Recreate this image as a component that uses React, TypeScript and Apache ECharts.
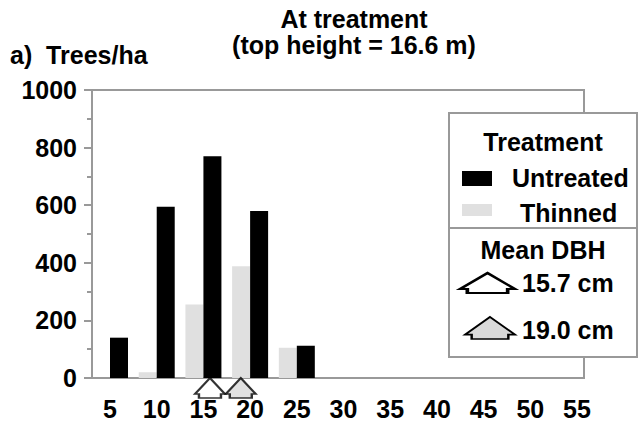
import React, { useEffect, useRef } from "react";
import * as echarts from "echarts";

// ---- data ----
const diameterClasses = [5, 10, 15, 20, 25];
const untreatedTreesPerHa = [140, 595, 770, 580, 112];
const thinnedTreesPerHa = [0, 20, 255, 388, 105];
const xTickLabels = [5, 10, 15, 20, 25, 30, 35, 40, 45, 50, 55];
const meanDbhValues = [15.7, 19.0];
const meanDbhLabels = ["15.7 cm", "19.0 cm"];
const seriesNames = ["Thinned", "Untreated"];

const FONT = "Liberation Sans, Arial, Helvetica, sans-serif";
const FS = 25;
const ARROW_D = "M15 0 L30 16 L26 16 L26 20 L4 20 L4 16 L0 16 Z";
const ARROW_FILLS = ["#ffffff", "#d9d9d9"];

let registered = false;
function registerArrow() {
  if (registered) return;
  echarts.graphic.registerShape("dbharrow", echarts.graphic.extendPath(ARROW_D, {}) as any);
  registered = true;
}

export default function App() {
  const ref = useRef<HTMLDivElement>(null);
  useEffect(() => {
    if (!ref.current) return;
    registerArrow();
    const chart = echarts.init(ref.current, undefined, { renderer: "svg" });
    const textBase = { fontFamily: FONT, fontWeight: "bold", fontSize: FS, fill: "#000" };
    const option: any = {
      animation: false,
      backgroundColor: "#fff",
      grid: {
        left: 92,
        top: 90,
        width: 492,
        height: 288,
        show: true,
        borderColor: "#999",
        borderWidth: 2,
        containLabel: false,
      },
      xAxis: {
        type: "value",
        min: 3.07,
        max: 55.75,
        axisLine: { show: true, lineStyle: { color: "#999", width: 2 } },
        axisTick: { show: false },
        splitLine: { show: false },
        axisLabel: {
          customValues: xTickLabels,
          color: "#000",
          fontFamily: FONT,
          fontWeight: "bold",
          fontSize: FS,
          margin: 18,
          formatter: (v: number) => String(Math.round(v)),
        },
      },
      yAxis: {
        type: "value",
        min: 0,
        max: 1000,
        interval: 200,
        axisLine: { show: true, lineStyle: { color: "#999", width: 2 } },
        axisTick: { show: true, length: 8, lineStyle: { color: "#999", width: 2 } },
        minorTick: { show: true, splitNumber: 2, length: 5, lineStyle: { color: "#999", width: 2 } },
        splitLine: { show: false },
        axisLabel: {
          color: "#000",
          fontFamily: FONT,
          fontWeight: "bold",
          fontSize: FS,
          margin: 15,
          formatter: (v: number) => String(v),
        },
      },
      series: [
        {
          name: seriesNames[0],
          type: "bar",
          barWidth: 18,
          barGap: "0%",
          itemStyle: { color: "#e0e0e0" },
          data: diameterClasses.map((d, i) => [d, thinnedTreesPerHa[i]]),
        },
        {
          name: seriesNames[1],
          type: "bar",
          barWidth: 18,
          barGap: "0%",
          itemStyle: { color: "#000000" },
          data: diameterClasses.map((d, i) => [d, untreatedTreesPerHa[i]]),
        },
        {
          type: "scatter",
          clip: false,
          z: 5,
          symbol: "path://" + ARROW_D,
          symbolSize: [30, 20],
          symbolOffset: [0, 10],
          data: meanDbhValues.map((v, i) => ({
            value: [v, 0],
            itemStyle: { color: ARROW_FILLS[i], borderColor: "#000", borderWidth: 2 },
          })),
        },
      ],
      graphic: [
        {
          type: "text",
          x: 354,
          y: 19,
          style: { ...textBase, text: "At treatment", textAlign: "center", textVerticalAlign: "middle" },
        },
        {
          type: "text",
          x: 354,
          y: 45,
          style: { ...textBase, text: "(top height = 16.6 m)", textAlign: "center", textVerticalAlign: "middle" },
        },
        {
          type: "text",
          x: 10,
          y: 55,
          style: { ...textBase, text: "a)  Trees/ha", textAlign: "left", textVerticalAlign: "middle" },
        },
        {
          type: "group",
          z: 100,
          children: [
            {
              type: "rect",
              shape: { x: 449, y: 113, width: 188, height: 244 },
              style: { fill: "#fff", stroke: "#999", lineWidth: 2 },
            },
            {
              type: "line",
              shape: { x1: 449, y1: 228, x2: 637, y2: 228 },
              style: { stroke: "#999", lineWidth: 2 },
            },
            {
              type: "text",
              x: 543,
              y: 142,
              style: { ...textBase, text: "Treatment", textAlign: "center", textVerticalAlign: "middle" },
            },
            {
              type: "rect",
              shape: { x: 462, y: 171, width: 30, height: 15 },
              style: { fill: "#000" },
            },
            {
              type: "text",
              x: 512,
              y: 178,
              style: { ...textBase, text: seriesNames[1], textAlign: "left", textVerticalAlign: "middle" },
            },
            {
              type: "rect",
              shape: { x: 462, y: 204, width: 30, height: 12 },
              style: { fill: "#e0e0e0" },
            },
            {
              type: "text",
              x: 520,
              y: 213,
              style: { ...textBase, text: seriesNames[0], textAlign: "left", textVerticalAlign: "middle" },
            },
            {
              type: "text",
              x: 543,
              y: 250,
              style: { ...textBase, text: "Mean DBH", textAlign: "center", textVerticalAlign: "middle" },
            },
            {
              type: "dbharrow",
              x: 460,
              y: 273,
              scaleX: 55 / 30,
              scaleY: 1,
              style: { fill: ARROW_FILLS[0], stroke: "#000", lineWidth: 2, strokeNoScale: true },
            },
            {
              type: "text",
              x: 522,
              y: 283,
              style: { ...textBase, text: meanDbhLabels[0], textAlign: "left", textVerticalAlign: "middle" },
            },
            {
              type: "dbharrow",
              x: 465,
              y: 317,
              scaleX: 50 / 30,
              scaleY: 22 / 20,
              style: { fill: ARROW_FILLS[1], stroke: "#000", lineWidth: 2, strokeNoScale: true },
            },
            {
              type: "text",
              x: 522,
              y: 330,
              style: { ...textBase, text: meanDbhLabels[1], textAlign: "left", textVerticalAlign: "middle" },
            },
          ],
        },
      ],
    };
    chart.setOption(option);
    return () => chart.dispose();
  }, []);
  return (
    <div
      ref={ref}
      style={{ position: "fixed", left: 0, top: 0, width: 638, height: 431, background: "#fff" }}
    />
  );
}
